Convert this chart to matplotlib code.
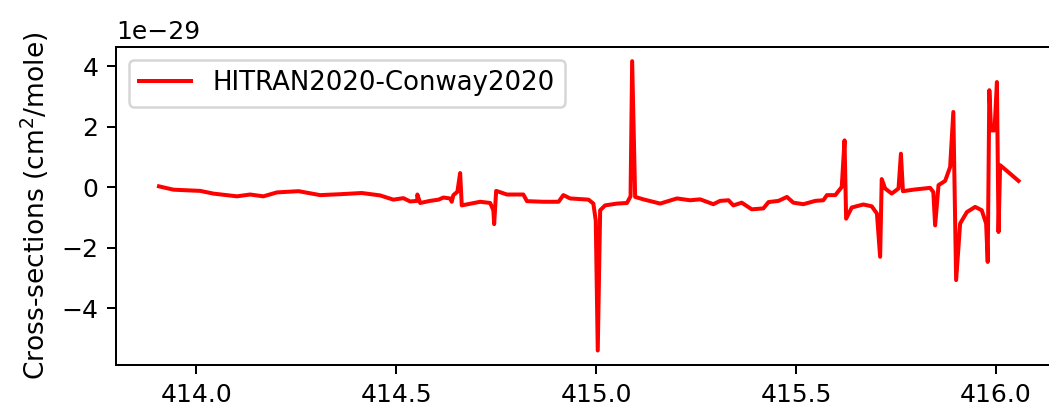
import numpy as np
import matplotlib
matplotlib.use("Agg")
import matplotlib.pyplot as plt

# Wavenumber grid (cm^-1) and cross-section values (units of 1e-29 cm^2/mole)
wavenumber = [
    413.907, 413.943, 414.010, 414.043, 414.102, 414.135, 414.168, 414.202,
    414.256, 414.310, 414.360, 414.414, 414.460, 414.493, 414.518, 414.535,
    414.5525, 414.553, 414.560, 414.585, 414.606, 414.618, 414.635, 414.639,
    414.643, 414.653, 414.660, 414.664, 414.710, 414.735, 414.743, 414.745,
    414.750, 414.777, 414.818, 414.827, 414.868, 414.906, 414.918, 414.935,
    414.981, 414.993, 414.999, 415.004, 415.010, 415.0225, 415.052, 415.077,
    415.086, 415.090, 415.0975, 415.118, 415.160, 415.202, 415.235, 415.260,
    415.293, 415.310, 415.331, 415.343, 415.364, 415.389, 415.418, 415.431,
    415.456, 415.477, 415.493, 415.518, 415.548, 415.568, 415.577, 415.598,
    415.614, 415.621, 415.625, 415.639, 415.668, 415.689, 415.702, 415.710,
    415.714, 415.7225, 415.739, 415.756, 415.762, 415.767, 415.793, 415.835,
    415.843, 415.8475, 415.856, 415.8725, 415.885, 415.893, 415.900, 415.910,
    415.927, 415.9475, 415.964, 415.975, 415.979, 415.983, 415.9875, 415.996,
    416.002, 416.006, 416.010, 416.035, 416.056,
]
cross_section = [
    0.03, -0.08, -0.12, -0.21, -0.30, -0.24, -0.30, -0.17,
    -0.13, -0.26, -0.23, -0.19, -0.27, -0.41, -0.36, -0.47,
    -0.45, -0.24, -0.52, -0.45, -0.41, -0.34, -0.37, -0.48,
    -0.26, -0.15, 0.47, -0.60, -0.48, -0.52, -0.76, -1.22,
    -0.12, -0.24, -0.24, -0.46, -0.48, -0.48, -0.26, -0.37,
    -0.41, -0.54, -1.10, -5.40, -0.76, -0.60, -0.54, -0.52,
    -0.30, 4.17, -0.32, -0.40, -0.54, -0.37, -0.43, -0.40,
    -0.56, -0.45, -0.43, -0.60, -0.51, -0.73, -0.70, -0.49,
    -0.45, -0.32, -0.51, -0.56, -0.45, -0.43, -0.26, -0.26,
    0.01, 1.55, -1.04, -0.67, -0.57, -0.63, -0.87, -2.30,
    0.27, -0.04, -0.21, -0.04, 1.11, -0.13, -0.08, -0.02,
    -0.16, -1.26, 0.07, 0.21, 0.67, 2.49, -3.07, -1.20,
    -0.82, -0.65, -0.76, -1.20, -2.47, 3.21, 1.88, 1.88,
    3.48, -1.48, 0.73, 0.45, 0.21,
]

series_label = "HITRAN2020-Conway2020"

fig = plt.figure(figsize=(1049 / 180, 405 / 180), dpi=180)
ax = fig.add_axes([116 / 1049, 40 / 405, 945.5 / 1049, 318.3 / 405])

ax.plot(wavenumber, np.array(cross_section) * 1e-29, color="red",
        linewidth=1.6, label=series_label)
ax.set_ylabel("Cross-sections (cm$^2$/mole)", fontsize=10.6)
ax.legend(loc="upper left", fontsize=10.4)

fig.savefig("out.png", dpi=180)
